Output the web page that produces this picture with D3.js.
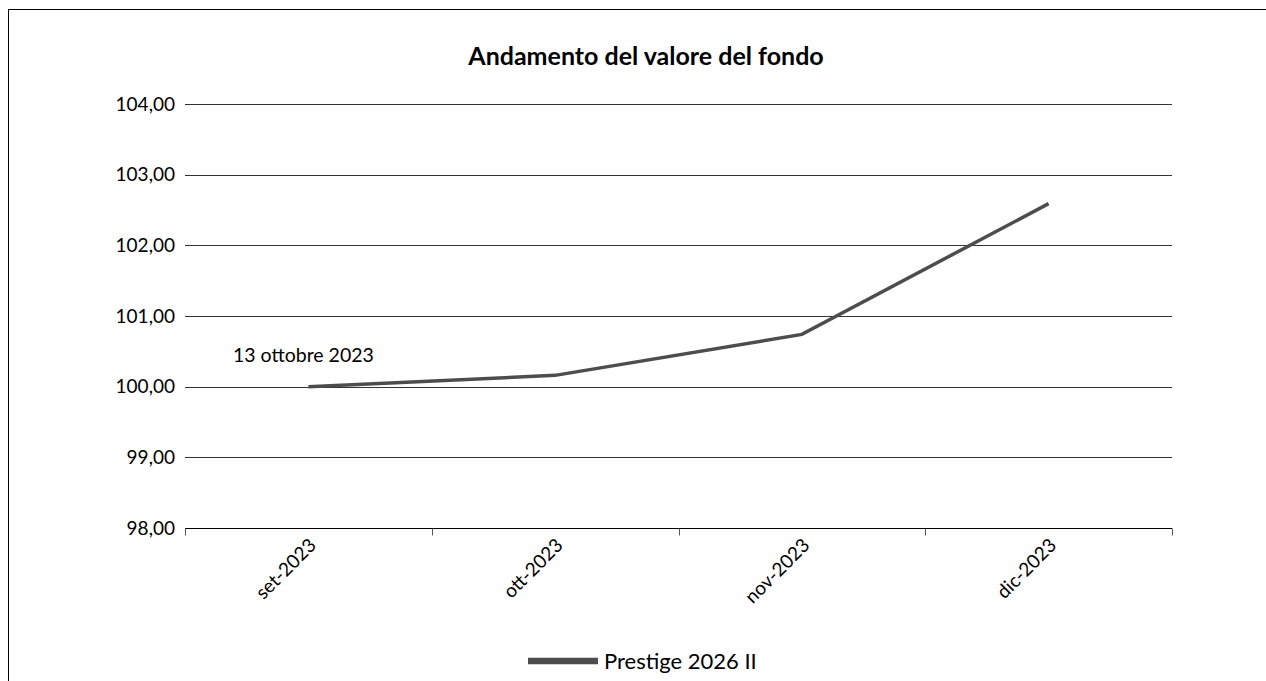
<!DOCTYPE html>
<html>
<head>
<meta charset="utf-8">
<script src="https://cdn.jsdelivr.net/npm/d3@7"></script>
<style>
  body { margin: 0; background: #fff; }
  svg { display: block; font-family: Lato, "Open Sans", sans-serif; }
</style>
</head>
<body>
<svg id="chart" width="1266" height="681"></svg>
<script>
// dati
const months = ["set-2023", "ott-2023", "nov-2023", "dic-2023"];
const values = [100.00, 100.16, 100.74, 102.59];
const yTicks = [98, 99, 100, 101, 102, 103, 104];
const seriesName = "Prestige 2026 II";
const chartTitle = "Andamento del valore del fondo";
const noteText = "13 ottobre 2023";

const margin = { top: 104, right: 94, bottom: 153, left: 185 };
const width = 1266, height = 681;
const lineColor = "#4d4d4d";

const svg = d3.select("#chart");

// cornice
svg.append("rect")
    .attr("x", 8.5).attr("y", 9.5)
    .attr("width", 1300).attr("height", 700)
    .attr("fill", "none")
    .attr("stroke", "#000")
    .attr("stroke-width", 1);

const x = d3.scaleBand()
    .domain(months)
    .range([margin.left, width - margin.right]);

const y = d3.scaleLinear()
    .domain([98, 104])
    .range([height - margin.bottom, margin.top]);

// titolo
svg.append("text")
    .attr("x", 646).attr("y", 65)
    .attr("text-anchor", "middle")
    .attr("font-size", 25)
    .attr("font-weight", "bold")
    .text(chartTitle);

// griglia orizzontale
svg.append("g")
    .selectAll("line")
    .data(yTicks)
    .join("line")
    .attr("x1", margin.left)
    .attr("x2", width - margin.right)
    .attr("y1", d => Math.round(y(d)) + 0.5)
    .attr("y2", d => Math.round(y(d)) + 0.5)
    .attr("stroke", d => d === 98 ? "#000" : "#333")
    .attr("stroke-width", 1);

// etichette asse y
const fmt = d => d3.format(".2f")(d).replace(".", ",");
svg.append("g")
    .selectAll("text")
    .data(yTicks)
    .join("text")
    .attr("x", margin.left - 10)
    .attr("y", d => y(d))
    .attr("dy", "0.35em")
    .attr("text-anchor", "end")
    .attr("font-size", 19)
    .attr("fill", "#000")
    .text(fmt);

// asse x: tacche ai confini delle categorie
const xAxis = svg.append("g")
    .attr("transform", `translate(0, ${Math.round(y(98)) + 0.5})`);

const bounds = months.map(m => x(m)).concat([x.range()[1]]);
xAxis.selectAll("line")
    .data(bounds)
    .join("line")
    .attr("x1", d => Math.round(d) + 0.5)
    .attr("x2", d => Math.round(d) + 0.5)
    .attr("y1", 0)
    .attr("y2", 7)
    .attr("stroke", "#555")
    .attr("stroke-width", 1);

xAxis.selectAll("text")
    .data(months)
    .join("text")
    .attr("transform", d => `translate(${x(d) + x.bandwidth() / 2 + 9}, 18) rotate(-45)`)
    .attr("text-anchor", "end")
    .attr("font-size", 19)
    .attr("fill", "#000")
    .text(d => d);

// linea della serie
const line = d3.line()
    .x((d, i) => x(months[i]) + x.bandwidth() / 2)
    .y(d => y(d));

svg.append("path")
    .datum(values)
    .attr("d", line)
    .attr("fill", "none")
    .attr("stroke", lineColor)
    .attr("stroke-width", 3.5);

// nota sul primo punto
svg.append("text")
    .attr("x", x(months[0]) + x.bandwidth() / 2 - 5)
    .attr("y", y(values[0]) - 25)
    .attr("text-anchor", "middle")
    .attr("font-size", 19.5)
    .attr("fill", "#000")
    .text(noteText);

// legenda
const legend = svg.append("g").attr("transform", "translate(528, 661)");
legend.append("line")
    .attr("x1", 0).attr("x2", 70)
    .attr("y1", 0).attr("y2", 0)
    .attr("stroke", lineColor)
    .attr("stroke-width", 6.5);
legend.append("text")
    .attr("x", 76)
    .attr("y", 0)
    .attr("dy", "0.35em")
    .attr("font-size", 22)
    .attr("fill", "#000")
    .text(seriesName);
</script>
</body>
</html>
